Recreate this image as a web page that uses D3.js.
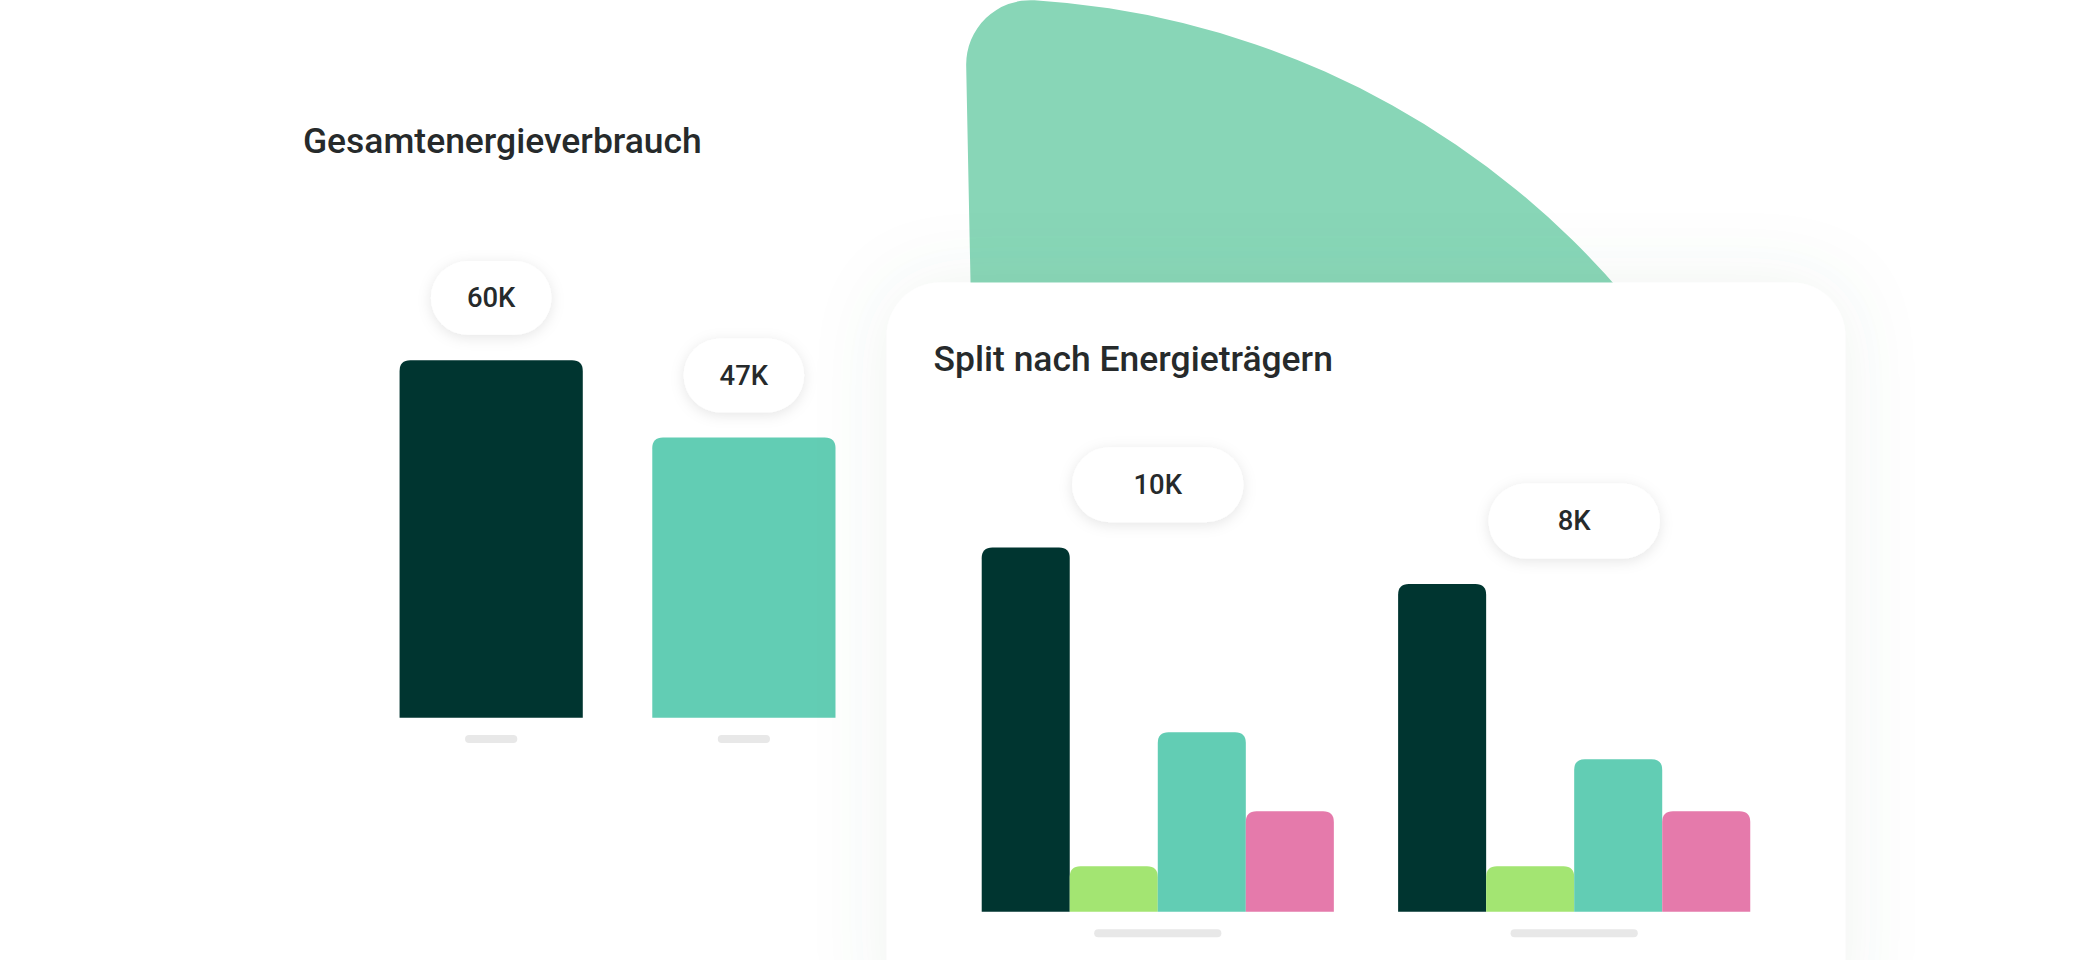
<!DOCTYPE html>
<html><head><meta charset="utf-8">
<script src="https://cdn.jsdelivr.net/npm/d3@7"></script>
<style>
html,body{margin:0;padding:0;background:#fff;}
svg{display:block;}
text{font-family:Roboto,"Noto Sans",sans-serif;fill:#262a2b;}
</style></head>
<body>
<svg id="chart" width="2100" height="960" viewBox="0 0 1568 717"></svg>
<script>
// Gesamt (in Tausend)
const totalCats = ["A", "B"];
const totalValues = [60, 47];
const totalLabels = ["60K", "47K"];
const totalColors = ["#003530", "#62cdb4"];

// Split nach Energieträgern (in Tausend)
const splitGroups = ["A", "B"];
const carriers = ["c1", "c2", "c3", "c4"];
const carrierColors = ["#003530", "#a3e572", "#62cdb4", "#e57aab"];
const splitValues = [
    [10, 1.25, 4.93, 2.76],
    [9, 1.25, 4.19, 2.76]
];
const splitLabels = ["10K", "8K"];

const svg = d3.select("#chart");
const defs = svg.append("defs");

const sh = defs.append("filter").attr("id", "cardShadow")
    .attr("x", "-30%").attr("y", "-30%").attr("width", "160%").attr("height", "160%");
sh.append("feDropShadow").attr("dx", 0).attr("dy", 0).attr("stdDeviation", 28)
    .attr("flood-color", "#4f7f6c").attr("flood-opacity", 0.09);

const ps = defs.append("filter").attr("id", "pillShadow")
    .attr("x", "-40%").attr("y", "-40%").attr("width", "180%").attr("height", "180%");
ps.append("feDropShadow").attr("dx", 0).attr("dy", 2).attr("stdDeviation", 5)
    .attr("flood-color", "#000").attr("flood-opacity", 0.1);

// Dekoratives Kreissegment im Hintergrund
svg.append("path")
    .attr("transform", "translate(733,629)")
    .attr("d", d3.arc().innerRadius(0).outerRadius(630).cornerRadius(48)
        .startAngle(-0.02).endAngle(Math.PI / 2)())
    .attr("fill", "#88d6b7");

// Obere abgerundete Balken
function topRounded(x, y, w, h, r) {
    r = Math.min(r, h, w / 2);
    return `M${x},${y + h}V${y + r}Q${x},${y} ${x + r},${y}H${x + w - r}Q${x + w},${y} ${x + w},${y + r}V${y + h}Z`;
}

function pill(g, cx, y, w, h, label) {
    g.append("rect").attr("x", cx - w / 2).attr("y", y).attr("width", w).attr("height", h)
        .attr("rx", h / 2).attr("fill", "#fff").attr("filter", "url(#pillShadow)");
    g.append("text").attr("x", cx).attr("y", y + h / 2 + 7).attr("text-anchor", "middle")
        .attr("font-size", 20.5).attr("font-weight", 500).text(label);
}

// ==========================================
// 1. Gesamtenergieverbrauch
// ==========================================
const g1 = svg.append("g");
g1.append("text").attr("x", 226).attr("y", 114).attr("font-size", 26.5)
    .attr("font-weight", 500).text("Gesamtenergieverbrauch");

const x1 = d3.scaleBand().domain(totalCats).range([285, 637]).paddingInner(0.275).paddingOuter(0.07);
const y1 = d3.scaleLinear().domain([0, 60]).range([536, 269]);

totalCats.forEach((c, i) => {
    const x = x1(c), w = x1.bandwidth(), top = y1(totalValues[i]);
    g1.append("path").attr("d", topRounded(x, top, w, 536 - top, 8)).attr("fill", totalColors[i]);
    g1.append("rect").attr("x", x + w / 2 - 19.5).attr("y", 549).attr("width", 39).attr("height", 6)
        .attr("rx", 3).attr("fill", "#e8e8e8");
    pill(g1, x + w / 2, top - 74, 90, 55, totalLabels[i]);
});

// ==========================================
// 2. Split nach Energieträgern (Karte)
// ==========================================
const card = svg.append("g");
card.append("rect").attr("x", 662).attr("y", 211).attr("width", 716).attr("height", 560)
    .attr("rx", 40).attr("fill", "#fff").attr("filter", "url(#cardShadow)");
card.append("text").attr("x", 697).attr("y", 277).attr("font-size", 26.5)
    .attr("font-weight", 500).text("Split nach Energieträgern");

const x0 = d3.scaleBand().domain(splitGroups).range([733, 1307]).paddingInner(48 / 311).paddingOuter(0);
const xs = d3.scaleBand().domain(carriers).range([0, x0.bandwidth()]).padding(0);
const y2 = d3.scaleLinear().domain([0, 10]).range([681, 409]);

splitGroups.forEach((grp, gi) => {
    const gx = x0(grp);
    carriers.forEach((c, ci) => {
        const x = gx + xs(c), top = y2(splitValues[gi][ci]);
        card.append("path").attr("d", topRounded(x, top, xs.bandwidth(), 681 - top, 8))
            .attr("fill", carrierColors[ci]);
    });
    const cx = gx + x0.bandwidth() / 2;
    card.append("rect").attr("x", cx - 47.5).attr("y", 694).attr("width", 95).attr("height", 6)
        .attr("rx", 3).attr("fill", "#e8e8e8");
    pill(card, cx, y2(splitValues[gi][0]) - 75, 128, 56, splitLabels[gi]);
});
</script>
</body></html>
